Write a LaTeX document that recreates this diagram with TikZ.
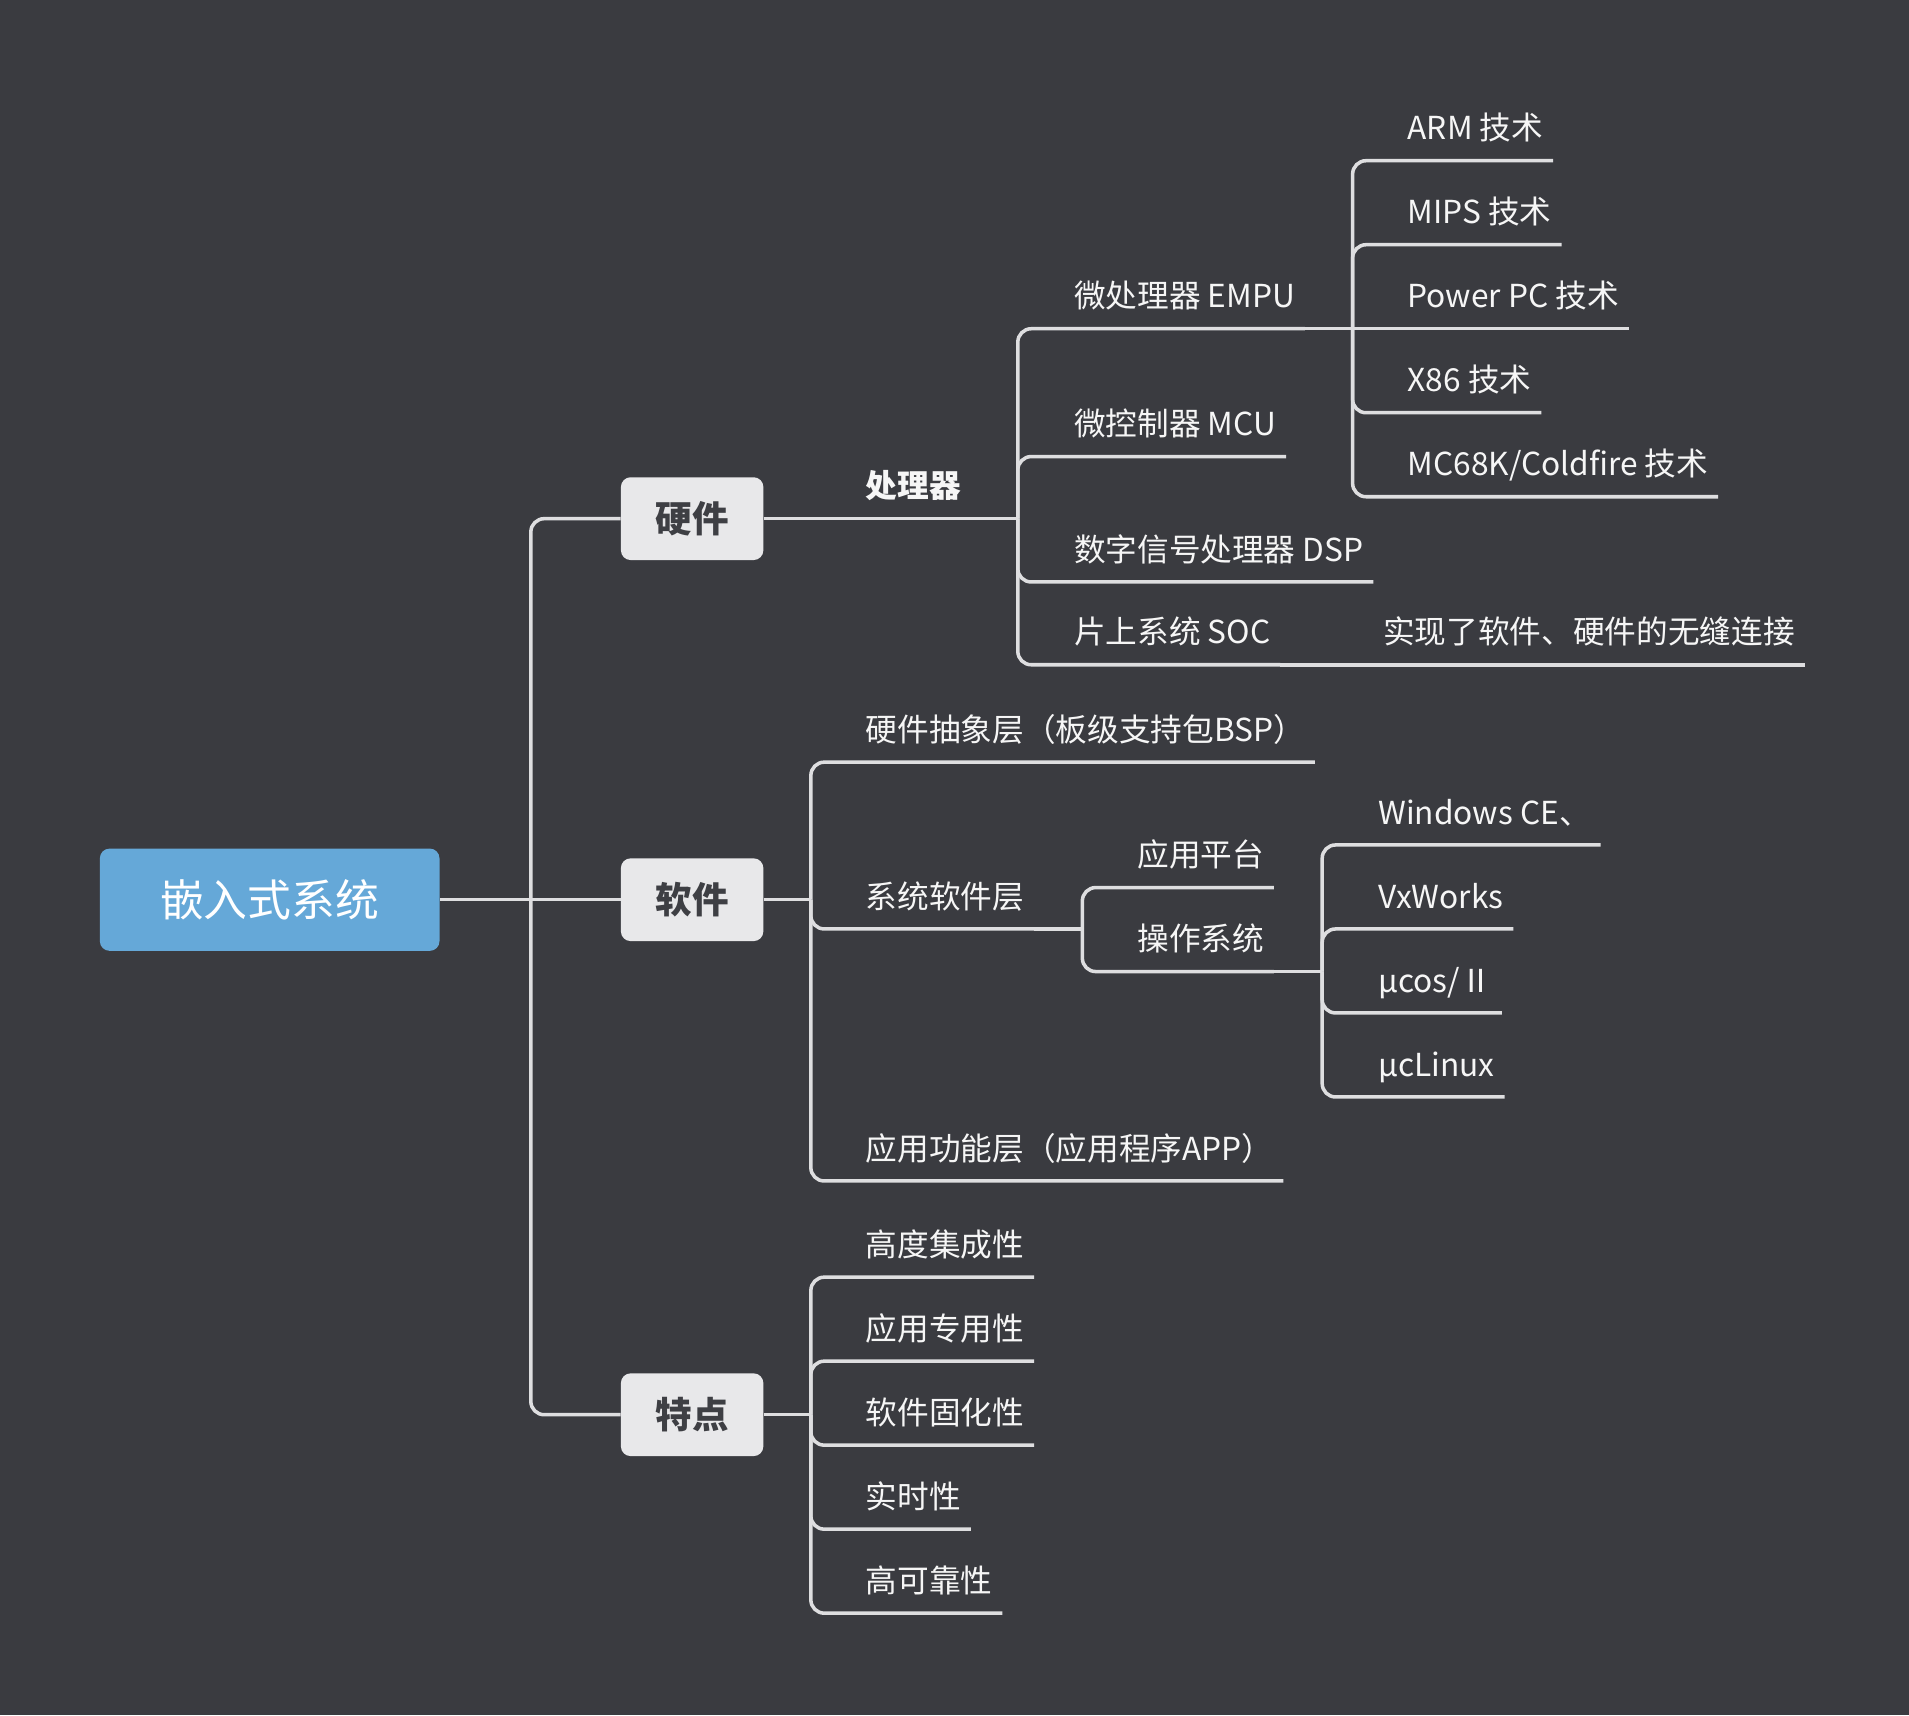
\documentclass[tikz,border=0pt]{standalone}
\usepackage{fontspec}
\setmainfont{Noto Sans CJK SC}
\usepackage{xcolor}
\definecolor{bgcol}{RGB}{58,59,64}
\definecolor{linecol}{RGB}{222,222,224}
\definecolor{leaftext}{RGB}{246,246,246}
\definecolor{boxfill}{RGB}{232,232,234}
\definecolor{boxtext}{RGB}{62,63,68}
\definecolor{rootfill}{RGB}{101,168,216}

\begin{document}
\begin{tikzpicture}[x=1pt, y=-1pt]
    % ------- canvas -------
    \fill[bgcol] (0,0) rectangle (1568,1409);
    \useasboundingbox (0,0) rectangle (1568,1409);

    % ------- style -------
    \tikzset{%
        root/.style={%
            fill=rootfill, rounded corners=8pt, text=white,
            minimum width=279pt, minimum height=84pt,
            font=\fontsize{36}{40}\selectfont,
        },
        branch/.style={%
            fill=boxfill, rounded corners=8pt, text=boxtext,
            minimum width=117pt, minimum height=68pt,
            font=\bfseries\fontsize{30}{34}\selectfont,
        },
        leaf/.style={%
            anchor=south west, inner xsep=8pt, inner ysep=0pt,
            text depth=17pt, text=leaftext,
            font=\fontsize{26}{30}\selectfont,
        },
        link/.style={draw=linecol, line width=2.9pt, rounded corners=11pt},
    }

    % ------- main topics -------
    \node[root]   (root) at (221.5,739) {嵌入式系统};
    \node[branch] (hw)   at (568.5,426) {硬件};
    \node[branch] (sw)   at (568.5,739) {软件};
    \node[branch] (ft)   at (568.5,1162) {特点};

    \coordinate (j-root) at (436,739);
    \draw[link] (root.east) -- (sw.west);
    \draw[link] (j-root) |- (hw.west);
    \draw[link] (j-root) |- (ft.west);

    % ------- hardware -------
    \node[leaf, font=\bfseries\fontsize{26}{30}\selectfont] (proc) at (703,426) {处理器};
    \coordinate (j-proc) at (836,426);
    \draw[link] (hw.east) -- (j-proc);
    \foreach \name/\ly/\txt in {empu/270/微处理器 EMPU, mcu/375/微控制器 MCU,
                                dsp/478/数字信号处理器 DSP, soc/546/片上系统 SOC} {
        \node[leaf] (\name) at (874,\ly) {\txt};
        \draw[link] (j-proc) |- (\name.south east);
    }
    \node[leaf] (seam) at (1128,546) {实现了软件、硬件的无缝连接};
    \draw[link] (soc.south east) -- (seam.south east);

    \coordinate (j-empu) at (1111,270);
    \draw[link] (empu.south east) -- (j-empu);
    \foreach \name/\ly/\txt in {arm/132/ARM 技术, mips/201/MIPS 技术,
                                x86/339/X86 技术, mc68k/408/{MC68K/Coldfire 技术}} {
        \node[leaf] (\name) at (1148,\ly) {\txt};
        \draw[link] (j-empu) |- (\name.south east);
    }
    \node[leaf] (ppc) at (1148,270) {Power PC 技术};
    \draw[link] (j-empu) -- (ppc.south east);

    % ------- software -------
    \coordinate (j-sw) at (666,739);
    \draw[link] (sw.east) -- (j-sw);
    \foreach \name/\ly/\txt in {bsp/626/硬件抽象层（板级支持包BSP）, sys/763/系统软件层,
                                app/970/应用功能层（应用程序APP）} {
        \node[leaf] (\name) at (703,\ly) {\txt};
        \draw[link] (j-sw) |- (\name.south east);
    }

    \coordinate (j-sys) at (889,763);
    \draw[link] (sys.south east) -- (j-sys);
    \foreach \name/\ly/\txt in {plat/729/应用平台, os/798/操作系统} {
        \node[leaf] (\name) at (926,\ly) {\txt};
        \draw[link] (j-sys) |- (\name.south east);
    }

    \coordinate (j-os) at (1086,798);
    \draw[link] (os.south east) -- (j-os);
    \foreach \name/\ly/\txt in {wince/694/Windows CE、, vxw/763/VxWorks,
                                ucos/832/{μcos/Ⅱ}, uclinux/901/μcLinux} {
        \node[leaf] (\name) at (1124,\ly) {\txt};
        \draw[link] (j-os) |- (\name.south east);
    }

    % ------- features -------
    \coordinate (j-ft) at (666,1162);
    \draw[link] (ft.east) -- (j-ft);
    \foreach \name/\ly/\txt in {f1/1049/高度集成性, f2/1118/应用专用性, f3/1187/软件固化性,
                                f4/1256/实时性, f5/1325/高可靠性} {
        \node[leaf] (\name) at (703,\ly) {\txt};
        \draw[link] (j-ft) |- (\name.south east);
    }
\end{tikzpicture}
\end{document}
